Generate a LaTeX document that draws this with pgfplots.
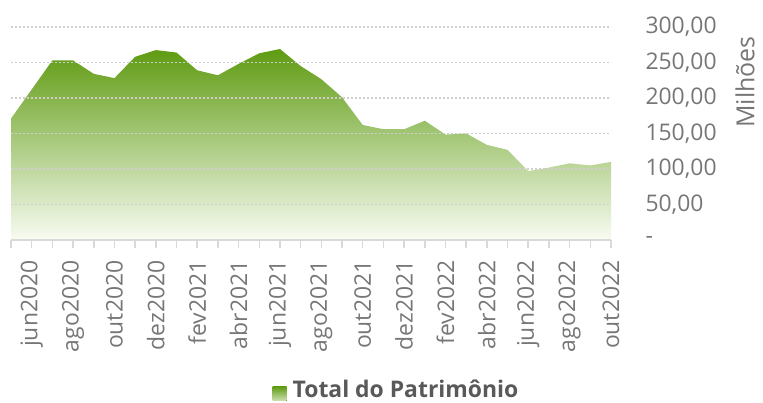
\documentclass[border=0pt]{standalone}
\usepackage{fontspec}
\setmainfont{Open Sans}
\usepackage{pgfplots}
\pgfplotsset{compat=1.18}
\definecolor{gtop}{HTML}{5F9B12}
\definecolor{gbot}{HTML}{F8FCF2}
\definecolor{gridc}{HTML}{D9D9D9}
\definecolor{dotc}{HTML}{CFCFCF}
\definecolor{txt}{HTML}{767676}
\definecolor{legtxt}{HTML}{595959}

\pgfplotstableread{
i val
0 171
1 212
2 253
3 253
4 234
5 228
6 258
7 267.5
8 264
9 239
10 232
11 248
12 263
13 269
14 245
15 226.5
16 201
17 162
18 156
19 156
20 168
21 148.5
22 150
23 134
24 127
25 97
26 102
27 108
28 105
29 110
}\patrimonio

\begin{document}
\begin{tikzpicture}
\useasboundingbox (0,0) rectangle (763bp,403bp);
\begin{axis}[
    at={(11bp,163bp)}, anchor=south west,
    width=600bp, height=213bp, scale only axis,
    xmin=0, xmax=29, ymin=0, ymax=300,
    axis x line*=bottom, axis y line*=right,
    y axis line style={draw=none},
    x axis line style={draw=gridc, line width=1.5bp},
    axis on top,
    tick align=outside,
    xtick={1,3,...,29},
    minor xtick={0,2,...,28},
    xticklabels={jun2020,ago2020,out2020,dez2020,fev2021,abr2021,jun2021,ago2021,out2021,dez2021,fev2022,abr2022,jun2022,ago2022,out2022},
    xtick style={draw=gridc, line width=1.5bp},
    major x tick style={draw=gridc}, minor x tick style={draw=gridc},
    major tick length=8bp, minor tick length=8bp,
    ytick={0,50,...,300},
    yticklabels={-,{50,00},{100,00},{150,00},{200,00},{250,00},{300,00}},
    ytick style={draw=none},
    ymajorgrids,
    major grid style={draw=dotc, line width=1.8bp, dash pattern=on 1.8bp off 2.2bp},
    tick label style={font=\fontsize{23}{27}\selectfont, text=txt},
    xticklabel style={rotate=90, anchor=east},
    xticklabel shift=9bp,
    yticklabel style={anchor=west, xshift=23bp},
    legend style={at={(axis description cs:0.6425,-0.702)}, anchor=center,
        draw=none, fill=none, font=\fontsize{23}{27}\selectfont\bfseries, text=legtxt},
    legend image code/.code={\fill[top color=gtop, bottom color=gtop!30!gbot] (0bp,-11bp) rectangle (14bp,3bp); \path (18bp,0bp);},
]
\addplot[draw=none, top color=gtop, bottom color=gbot] table[x=i, y=val] {\patrimonio} \closedcycle;
\addlegendentry{Total do Patrimônio}
\end{axis}
\node[rotate=90, text=txt, font=\fontsize{25}{29}\selectfont] at (745bp,321bp) {Milhões};
\end{tikzpicture}
\end{document}
